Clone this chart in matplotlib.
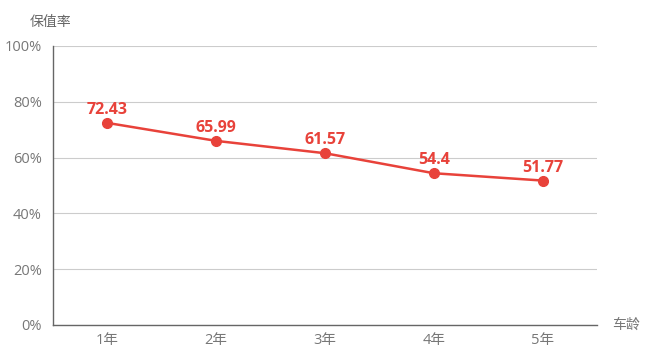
import matplotlib
matplotlib.use("Agg")
import matplotlib.pyplot as plt

plt.rcParams['font.family'] = ['Open Sans', 'Noto Sans CJK SC', 'DejaVu Sans']

categories = ["1年", "2年", "3年", "4年", "5年"]
values = [72.43, 65.99, 61.57, 54.4, 51.77]
yticks = [0, 20, 40, 60, 80, 100]
ytick_labels = ["0%", "20%", "40%", "60%", "80%", "100%"]

W, H = 653, 358
fig = plt.figure(figsize=(W / 100, H / 100), dpi=100)
ax = fig.add_axes([53 / W, (H - 325) / H, 544 / W, 279 / H])

color = "#e8423a"
x = list(range(len(categories)))
ax.plot(x, values, color=color, lw=1.8, marker="o", ms=7, zorder=3, clip_on=False)
for xi, v in zip(x, values):
    ax.annotate(f"{v:g}", (xi, v), xytext=(0, 6.5), textcoords="offset points",
                ha="center", va="baseline", color=color, fontsize=11.5, fontweight="bold")

ax.set_xlim(-0.5, len(categories) - 0.5)
ax.set_ylim(0, 100)
ax.set_yticks(yticks)
ax.set_yticklabels(ytick_labels)
ax.set_xticks(x)
ax.set_xticklabels(categories)
ax.tick_params(axis="both", length=0, colors="#777777", labelsize=10.5)
ax.tick_params(axis="y", pad=8)
ax.tick_params(axis="x", pad=6)
ax.grid(axis="y", color="#cccccc", lw=0.8)
ax.set_axisbelow(True)
for s in ["top", "right"]:
    ax.spines[s].set_visible(False)
for s in ["left", "bottom"]:
    ax.spines[s].set_color("#666666")
    ax.spines[s].set_linewidth(1)

fig.text(30 / W, 1 - 22 / H, "保值率", color="#666666", fontsize=10,
         va="center", ha="left", family=['Noto Sans CJK SC', 'DejaVu Sans'])
fig.text(612 / W, 1 - 325 / H, "车龄", color="#777777", fontsize=10,
         va="center", ha="left", family=['Noto Sans CJK SC', 'DejaVu Sans'])

fig.savefig("out.png", dpi=100)
